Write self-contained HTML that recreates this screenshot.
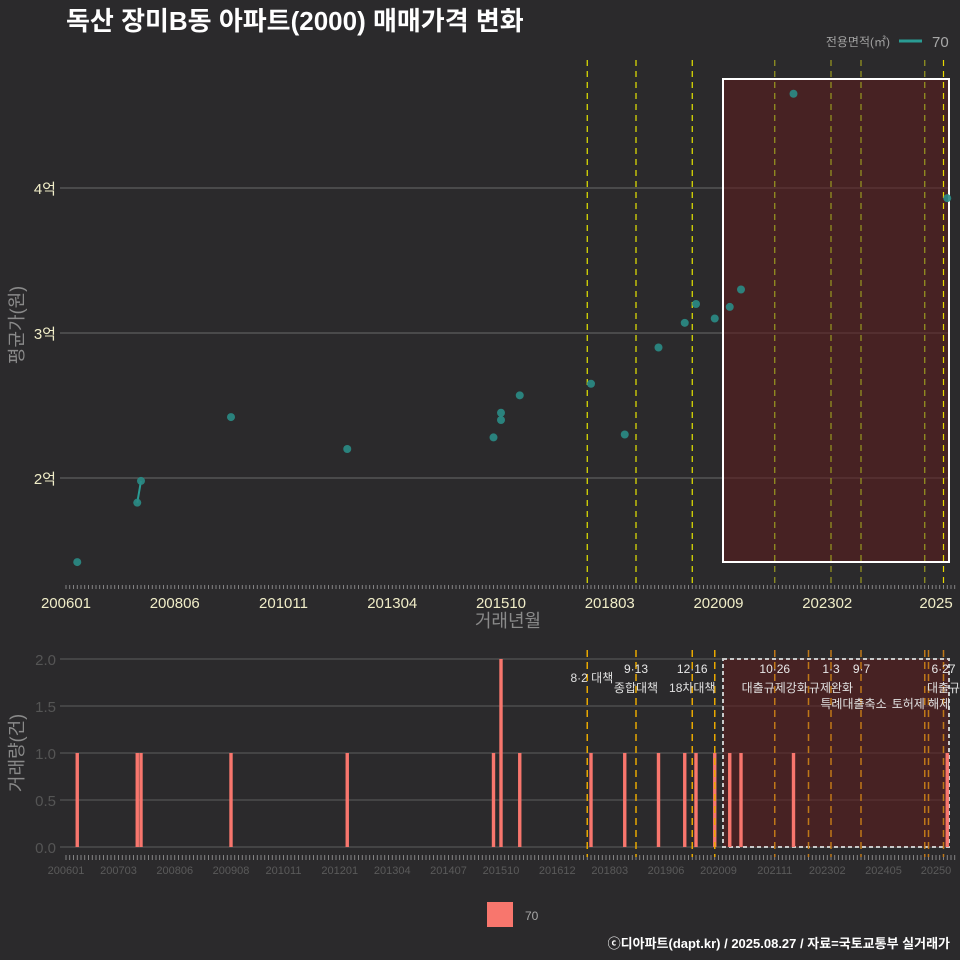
<!DOCTYPE html>
<html><head><meta charset="utf-8">
<style>
html,body{margin:0;padding:0;background:#2b2a2c;}
svg{display:block;font-family:"Liberation Sans","Noto Sans CJK KR",sans-serif;}
</style></head>
<body>
<svg id="c" width="960" height="960" viewBox="0 0 960 960" xmlns="http://www.w3.org/2000/svg">
<rect width="960" height="960" fill="#2b2a2c"/>
<text x="66" y="30" fill="#ffffff" font-size="26" font-weight="bold">독산 장미B동 아파트(2000) 매매가격 변화</text>
<text x="890" y="46" fill="#a0a0a0" font-size="12" text-anchor="end">전용면적(㎡)</text>
<line x1="899" y1="41" x2="922" y2="41" stroke="#2a9c94" stroke-width="3"/>
<text x="932" y="47" fill="#a8a8a8" font-size="15">70</text>
<g id="topg"></g>
<g id="botg"></g>
<rect x="487" y="902" width="26" height="25" fill="#f8766d"/>
<text x="525" y="920" fill="#a8a8a8" font-size="12">70</text>
<text x="950" y="948" fill="#ffffff" font-size="13" font-weight="bold" text-anchor="end">ⓒ디아파트(dapt.kr) / 2025.08.27 / 자료=국토교통부 실거래가</text>
</svg>
<script>
// data: month index from 2006-01, price in 억
const months = [3,19,20,44,75,114,116,116,121,140,149,158,165,168,173,177,180,194,235];
const prices = [1.42,1.83,1.98,2.42,2.20,2.28,2.45,2.40,2.57,2.65,2.30,2.90,3.07,3.20,3.10,3.18,3.30,4.65,3.93];
const priceTicks = [2,3,4];
const priceTickLabels = ["2억","3억","4억"];
const topXTicks = [0,29,58,87,116,145,174,203,232];
const topXLabels = ["200601","200806","201011","201304","201510","201803","202009","202302","2025"];
const botXTicks = [0,14,29,44,58,73,87,102,116,131,145,160,174,189,203,218,232];
const botXLabels = ["200601","200703","200806","200908","201011","201201","201304","201407","201510","201612","201803","201906","202009","202111","202302","202405","20250"];
const countTicks = [0,0.5,1,1.5,2];
const countTickLabels = ["0.0","0.5","1.0","1.5","2.0"];
const policyMonths = [139,152,167,173,189,198,204,212,229,230,234];
const policyTop = [139,152,167,189,204,212,229,234];
const policyLabels = [
 {m:139,a:"",b:"8·2 대책",anchor:"end",ax:0},
 {m:152,a:"9·13",b:"종합대책",anchor:"middle",ax:0},
 {m:167,a:"12·16",b:"18차대책",anchor:"middle",ax:0},
 {m:189,a:"10·26",b:"대출규제강화",anchor:"middle",ax:0},
 {m:204,a:"1·3",b:"규제완화",anchor:"middle",ax:0},
 {m:210,a:"9·7",b:"특례대출축소",anchor:"middle",ax:8},
 {m:228,a:"",b:"토허제 해제",anchor:"middle",ax:0},
 {m:234,a:"6·27",b:"대출규",anchor:"middle",ax:0}
];
const NS="http://www.w3.org/2000/svg";
function X(m){return 66+3.75*m;}
function YP(v){return 478-(v-2)*145;}
function YC(v){return 847-v*94;}
function el(p,t,a,txt){const e=document.createElementNS(NS,t);for(const k in a)e.setAttribute(k,a[k]);if(txt!==undefined)e.textContent=txt;p.appendChild(e);return e;}
const gTop=document.getElementById('topg'), gBot=document.getElementById('botg');
const boxX=723;
priceTicks.forEach((v,i)=>{
 const g=el(gTop,'line',{x1:60,x2:950,y1:YP(v),y2:YP(v),stroke:'#6a6a6a','stroke-width':1});
 
 
 const t=el(gTop,'text',{x:56,y:YP(v)+6,fill:'#f0edc8','font-size':15,'text-anchor':'end'},priceTickLabels[i]);
 
 
});
const bx=el(gTop,'rect',{x:boxX,y:79,width:949-boxX,height:483,fill:'#5a1e1e','fill-opacity':0.6,stroke:'#ffffff','stroke-width':2});


policyTop.forEach(m=>{
 const c = m>=174 ? (m===234?'#e8d800':'#9a9a20') : '#e6e600';
 const l=el(gTop,'line',{x1:X(m),x2:X(m),y1:60,y2:585,stroke:c,'stroke-width':1.2,'stroke-dasharray':'6,5'});
 
 
});
for(let m=0;m<=237;m++){
 const t=el(gTop,'line',{x1:X(m),x2:X(m),y1:585,y2:589,stroke:'#9a9a9a','stroke-width':0.8});
 
 
 const b=el(gBot,'line',{x1:X(m),x2:X(m),y1:855,y2:860,stroke:'#9a9a9a','stroke-width':0.8});
 
 
}
topXTicks.forEach((m,i)=>{
 const t=el(gTop,'text',{x:X(m),y:608,fill:'#f0edc8','font-size':15,'text-anchor':'middle'},topXLabels[i]);
 
 
});
const xt=el(gTop,'text',{x:508,y:627,fill:'#8a8a8a','font-size':18,'text-anchor':'middle'},'거래년월');


const yt=el(gTop,'text',{x:0,y:0,fill:'#8a8a8a','font-size':18,'text-anchor':'middle',transform:'translate(23,325) rotate(-90)'},'평균가(원)');


for(let i=1;i<months.length;i++){
 if(months[i]-months[i-1]===1){
  const l=el(gTop,'line',{x1:X(months[i-1]),y1:YP(prices[i-1]),x2:X(months[i]),y2:YP(prices[i]),stroke:'#2a9c94','stroke-width':2});
  
  
 }
}
months.forEach((m,i)=>{
 const c=el(gTop,'circle',{cx:X(m),cy:YP(prices[i]),r:4,fill:'#2a8c86','fill-opacity':0.9});
 
 
});
countTicks.forEach((v,i)=>{
 const g=el(gBot,'line',{x1:60,x2:950,y1:YC(v),y2:YC(v),stroke:'#5e5e5e','stroke-width':1});
 
 
 const t=el(gBot,'text',{x:56,y:YC(v)+6,fill:'#555555','font-size':15,'text-anchor':'end'},countTickLabels[i]);
 
 
});
const yt2=el(gBot,'text',{x:0,y:0,fill:'#8a8a8a','font-size':18,'text-anchor':'middle',transform:'translate(23,753) rotate(-90)'},'거래량(건)');


const bb=el(gBot,'rect',{x:boxX,y:659,width:949-boxX,height:188,fill:'#5a1e1e','fill-opacity':0.6,stroke:'#c8c8c8','stroke-width':2,'stroke-dasharray':'4,3'});


const counts={};months.forEach(m=>counts[m]=(counts[m]||0)+1);
Object.keys(counts).forEach(k=>{
 const m=+k,v=counts[k];
 const r=el(gBot,'rect',{x:X(m)-1.7,y:YC(v),width:3.4,height:YC(0)-YC(v),fill:'#f8766d'});
 
 
});
policyMonths.forEach(m=>{
 const l=el(gBot,'line',{x1:X(m),x2:X(m),y1:650,y2:857,stroke:m>=174?'#c07818':'#e8a800','stroke-width':1.5,'stroke-dasharray':'7,5'});
 
 
});
policyLabels.forEach(p=>{
 let x=X(p.m);
 if(p.a){const t=el(gBot,'text',{x:x+p.ax,y:673,fill:'#e8e8e8','font-size':12,'text-anchor':'middle'},p.a);
  
  }
 let y=692;
 if(p.m===139) y=682;
 if(p.m===210||p.m===228) y=708;
 const t2=el(gBot,'text',{x:p.m===139?x+26:x,y:y,fill:'#e0e0e0','font-size':12,'text-anchor':p.anchor},p.b);
 
 
});
botXTicks.forEach((m,i)=>{
 const t=el(gBot,'text',{x:X(m),y:874,fill:'#5a5a5a','font-size':11,'text-anchor':'middle'},botXLabels[i]);
 
 
});
</script>
</body></html>
